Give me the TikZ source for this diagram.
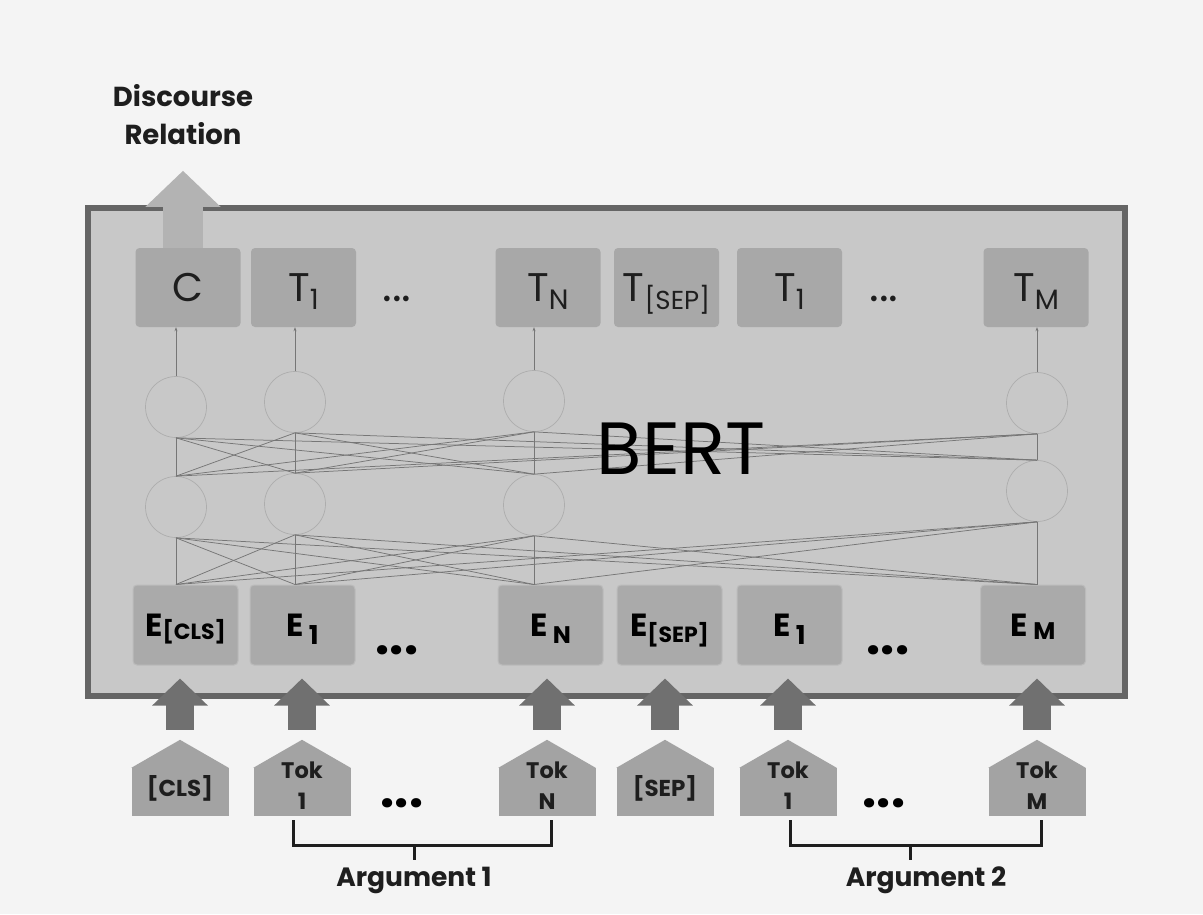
\documentclass[tikz,border=0pt]{standalone}
\usepackage{fontspec}
\setmainfont{Poppins}
\usetikzlibrary{arrows.meta,calc}
\definecolor{bgc}{HTML}{F4F4F4}
\definecolor{boxc}{HTML}{C8C8C8}
\definecolor{borderc}{HTML}{656565}
\definecolor{tfill}{HTML}{A8A8A8}
\definecolor{efill}{HTML}{AAAAAA}
\definecolor{eedge}{HTML}{BBBBBB}
\definecolor{housec}{HTML}{A3A3A3}
\definecolor{fatc}{HTML}{707070}
\definecolor{discc}{HTML}{B3B3B3}
\definecolor{netc}{HTML}{767676}
\definecolor{circc}{HTML}{ADADAD}
\definecolor{inkc}{HTML}{1E1E1E}
\newcommand{\lsub}[3]{\raisebox{-#3}{\fontsize{#1}{#1}\selectfont #2}}
\begin{document}
\begin{tikzpicture}[x=1pt,y=-1pt,
  bertbox/.style={rectangle, draw=borderc, fill=boxc, line width=5.5pt, minimum width=1037pt, minimum height=488pt, inner sep=0pt},
  tbox/.style={rectangle, rounded corners=4pt, fill=tfill, minimum width=105pt, minimum height=79pt, inner sep=0pt, text=inkc, text depth=0pt, font=\fontsize{40}{40}\selectfont},
  ebox/.style={rectangle, rounded corners=4pt, fill=efill, draw=eedge, line width=1pt, minimum width=105pt, minimum height=80pt, inner sep=0pt, text=black, text depth=0pt, font=\bfseries\fontsize{32}{32}\selectfont},
  circ/.style={circle, draw=circc, line width=0.7pt, minimum size=61pt, inner sep=0pt},
  netline/.style={draw=netc, line width=0.75pt},
  uparr/.style={draw=netc, line width=0.6pt, -{Stealth[length=4pt,width=3pt]}},
  tokbody/.style={rectangle, fill=housec, minimum width=97pt, minimum height=48pt, inner sep=0pt},
  toklbl/.style={align=center, text=inkc, font=\bfseries\fontsize{22.5}{31}\selectfont, inner sep=0pt},
  fat/.style={draw=fatc, line width=28pt, -{Triangle[width=54pt,length=27pt]}},
  disc/.style={draw=discc, line width=40pt, -{Triangle[width=73pt,length=36pt]}},
  brk/.style={draw=inkc, line width=3pt},
  lbl/.style={text=inkc, font=\bfseries\fontsize{26.5}{38}\selectfont, align=center, inner sep=0pt, text depth=0pt},
  tdots/.style={text=inkc, inner sep=0pt, font=\fontsize{46}{46}\selectfont},
  bdots/.style={text=black, inner sep=0pt, font=\bfseries\fontsize{50}{50}\selectfont}
]
\fill[bgc] (0,0) rectangle (1203,914);
\useasboundingbox (0,0) rectangle (1203,914);

% main box
\node[bertbox] (bert) at (606.5,452) {};

% top output boxes
\node[tbox] (tc)   at (188,287.5)   {C};
\node[tbox] (ta1)  at (303.5,287.5) {T\lsub{28}{1}{8pt}};
\node[tbox] (taN)  at (548,287.5)   {T\lsub{28}{N}{8pt}};
\node[tbox] (tsep) at (666.5,287.5) {T\lsub{26}{[SEP]}{8pt}};
\node[tbox] (tb1)  at (789.5,287.5) {T\lsub{28}{1}{8pt}};
\node[tbox] (tbM)  at (1036,287.5)  {T\lsub{28}{M}{8pt}};
\node[tdots] (td1) at (397,299) {...};
\node[tdots] (td2) at (884,299) {...};

% embedding boxes
\node[ebox] (ecls) at (185.5,625) {E\lsub{22}{[CLS]}{3pt}};
\node[ebox] (ea1)  at (302.5,625) {E\,\lsub{26}{1}{8pt}};
\node[ebox] (eaN)  at (550.5,625) {E\,\lsub{24}{N}{7pt}};
\node[ebox] (esep) at (669.5,625) {E\lsub{22}{[SEP]}{6pt}};
\node[ebox] (eb1)  at (789.5,625) {E\,\lsub{26}{1}{8pt}};
\node[ebox] (ebM)  at (1033,625)  {E\,\lsub{24}{M}{3pt}};
\node[bdots] (ed1) at (397,650) {...};
\node[bdots] (ed2) at (888,650) {...};

% circles
\node[circ] (u1) at (176,407) {};
\node[circ] (u2) at (295,402) {};
\node[circ] (u3) at (534,401) {};
\node[circ] (u4) at (1037,403) {};
\node[circ] (l1) at (176,507) {};
\node[circ] (l2) at (295,504) {};
\node[circ] (l3) at (534,505) {};
\node[circ] (l4) at (1037,491) {};

% circle to output
\draw[uparr] (u1.north) -- (u1.north |- tc.south);
\draw[uparr] (u2.north) -- (u2.north |- ta1.south);
\draw[uparr] (u3.north) -- (u3.north |- taN.south);
\draw[uparr] (u4.north) -- (u4.north |- tbM.south);

% fully connected layers
\foreach \i in {1,...,4}{
  \foreach \j in {1,...,4}{
    \draw[netline] (u\i.south) -- (l\j.north);
    \draw[netline] (l\i.south) -- (l\j.south |- ecls.north);
  }
}

\node[text=black, inner sep=0pt, text depth=0pt, font=\fontsize{74}{74}\selectfont] (bertlbl) at (681,449) {BERT};

% output arrow
\draw[disc] ($(tc.north)+(-5,0)$) -- ($(tc.north)+(-5,-77)$);
\node[lbl, font=\bfseries\fontsize{27.5}{38}\selectfont] (dr) at (183,114) {Discourse\\Relation};

% token houses
\foreach \n/\x in {kcls/180, ka1/302, kaN/547, ksep/665, kb1/788, kbM/1037}{
  \node[tokbody] (\n) at (\x,792) {};
  \fill[housec] (\n.north west) -- ($(\n.north)+(0,-28)$) -- (\n.north east) -- cycle;
}
\node[toklbl, font=\bfseries\fontsize{23}{31}\selectfont] (tkcls) at (180,788) {[CLS]};
\node[toklbl] (tka1) at (302,786) {Tok\\1};
\node[toklbl] (tkaN) at (547,786) {Tok\\N};
\node[toklbl, font=\bfseries\fontsize{23}{31}\selectfont] (tksep) at (665,788) {[SEP]};
\node[toklbl] (tkb1) at (788,786) {Tok\\1};
\node[toklbl] (tkbM) at (1037,786) {Tok\\M};
\node[bdots] (kd1) at (402,803) {...};
\node[bdots] (kd2) at (884,803) {...};

% fat arrows
\foreach \k/\e in {kcls/ecls, ka1/ea1, kaN/eaN, ksep/esep, kb1/eb1, kbM/ebM}{
  \draw[fat] ($(\k.north)+(0,-38)$) -- ($(\k.north |- \e.south)+(0,13)$);
}

% argument brackets
\node[lbl] (arg1) at (414,877) {Argument 1};
\node[lbl] (arg2) at (926,877) {Argument 2};
\draw[brk] ($(ka1.south)+(-9,4)$) -- ($(ka1.south)+(-9,29)$) -- ($(kaN.south)+(4,29)$) -- ($(kaN.south)+(4,4)$);
\draw[brk] ($(kb1.south)+(2,4)$) -- ($(kb1.south)+(2,29)$) -- ($(kbM.south)+(4,29)$) -- ($(kbM.south)+(4,4)$);
\coordinate (a1m) at (414,845);
\coordinate (a2m) at (910,845);
\draw[brk] (a1m) -- ($(a1m)+(0,15)$);
\draw[brk] (a2m) -- ($(a2m)+(0,15)$);
\end{tikzpicture}
\end{document}
